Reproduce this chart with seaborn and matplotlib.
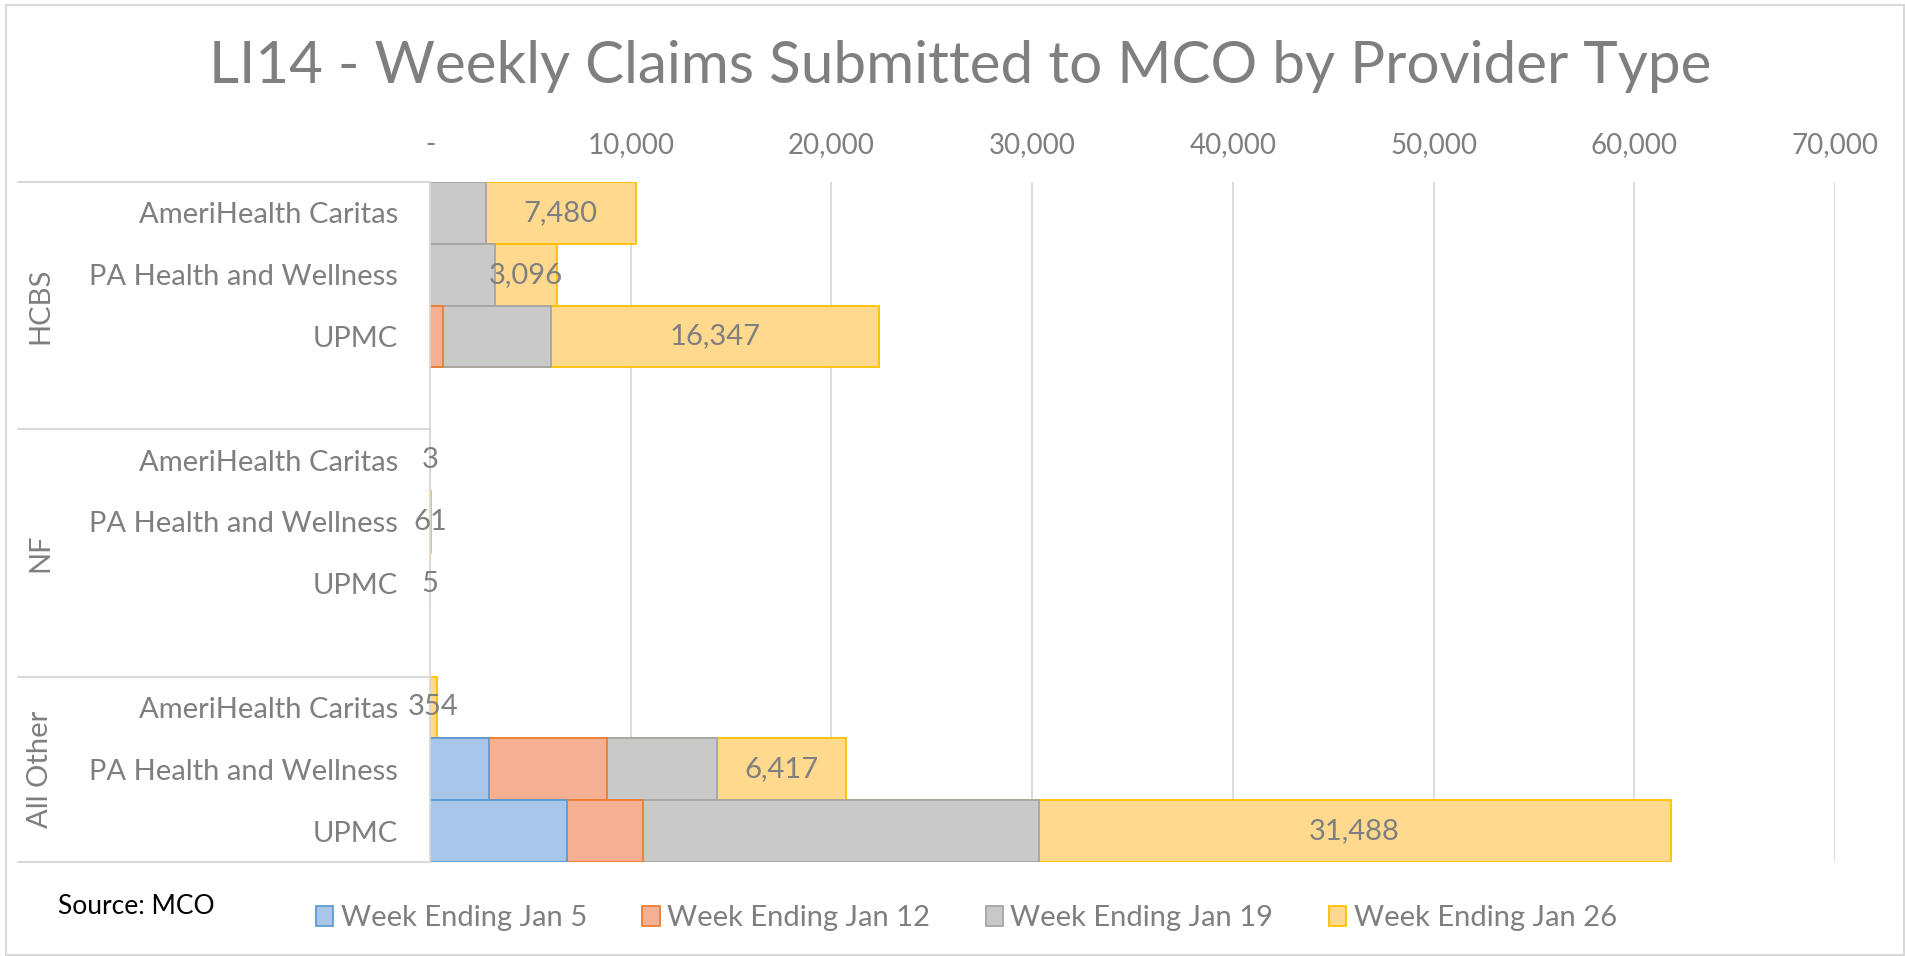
import pandas as pd
import matplotlib
matplotlib.use('Agg')
import matplotlib.pyplot as plt
import matplotlib.patches as mpatches
from matplotlib.ticker import FuncFormatter
import seaborn as sns

# categories
groups = ['HCBS', 'NF', 'All Other']
mcos = ['AmeriHealth Caritas', 'PA Health and Wellness', 'UPMC']
weeks = ['Week Ending Jan 5', 'Week Ending Jan 12', 'Week Ending Jan 19', 'Week Ending Jan 26']

# claims per week, ordered HCBS x3, NF x3, All Other x3 (mco order as above)
jan5 = [0, 0, 0, 0, 0, 0, 0, 2950, 6830]
jan12 = [0, 0, 650, 0, 0, 0, 0, 5850, 3760]
jan19 = [2770, 3250, 5380, 0, 0, 0, 0, 5500, 19730]
jan26 = [7480, 3096, 16347, 3, 61, 5, 354, 6417, 31488]

title = 'LI14 - Weekly Claims Submitted to MCO by Provider Type'
fills = ['#a8c6e8', '#f5b093', '#c9c9c9', '#fed98e']
edges = ['#5b9bd5', '#ed7d31', '#a5a5a5', '#ffc000']
text_gray = '#7f7f7f'

sns.set_style('white')
plt.rcParams['font.family'] = ['Lato', 'DejaVu Sans']

# long table
rows = []
for gi, g in enumerate(groups):
    for mi, m in enumerate(mcos):
        k = gi * 3 + mi
        rows.append({'group': g, 'mco': m, 'key': g + '|' + m,
                     weeks[0]: jan5[k], weeks[1]: jan12[k],
                     weeks[2]: jan19[k], weeks[3]: jan26[k]})
df = pd.DataFrame(rows)
cum = df[weeks].cumsum(axis=1)
cum['key'] = df['key']

# category order with an empty slot after each group except the last
order = []
for gi, g in enumerate(groups):
    order += [g + '|' + m for m in mcos]
    if gi < len(groups) - 1:
        order.append('gap%d' % gi)

fig = plt.figure(figsize=(19.06, 9.56), dpi=100)
ax = fig.add_axes([430 / 1906, 1 - 862 / 956, 1405 / 1906, 680 / 956])

# stacked bars: draw running totals from the largest down
for i in reversed(range(len(weeks))):
    sub = cum[cum[weeks[i]] > 0]
    sns.barplot(x=sub[weeks[i]], y=sub['key'], order=order, orient='h',
                color=fills[i], edgecolor=edges[i], linewidth=1.3,
                width=1, saturation=1, errorbar=None, ax=ax)

# labels on the last week
for idx, r in df.iterrows():
    yi = order.index(r['key'])
    start = cum.loc[idx, weeks[2]]
    ax.text(start + r[weeks[3]] / 2, yi, f'{r[weeks[3]]:,}', ha='center', va='center',
            fontsize=21, color=text_gray)

ax.set_xlim(0, 70000)
ax.set_xticks(range(0, 70001, 10000))
ax.xaxis.set_major_formatter(FuncFormatter(lambda v, p: '-' if v == 0 else f'{v:,.0f}'))
ax.xaxis.tick_top()
ax.tick_params(axis='x', length=0, pad=17, labelsize=20, labelcolor=text_gray)
ax.xaxis.grid(True, color='#d9d9d9', lw=1.3)
ax.set_axisbelow(True)

ax.set_yticks(range(len(order)))
ax.set_yticklabels([k.split('|')[1] if '|' in k else '' for k in order])
ax.tick_params(axis='y', length=0, pad=23, labelsize=21, labelcolor=text_gray)
ax.set_xlabel('')
ax.set_ylabel('')
for s in ['top', 'right', 'bottom']:
    ax.spines[s].set_visible(False)
ax.spines['left'].set_color('#d9d9d9')
ax.spines['left'].set_linewidth(1.3)

# group separators and group labels
ytr = ax.get_yaxis_transform()
bounds = [-0.5, 3.5, 7.5, len(order) - 0.5]
for b in bounds:
    ax.plot([-412 / 1405, 0], [b, b], transform=ytr, color='#d9d9d9', lw=1.5,
            clip_on=False, scalex=False, scaley=False)
for gi, g in enumerate(groups):
    ax.text(-390 / 1405, (bounds[gi] + bounds[gi + 1]) / 2, g, rotation=90, transform=ytr,
            ha='center', va='center', fontsize=21, color=text_gray)
ax.set_ylim(len(order) - 0.5, -0.5)

fig.text(0.504, 1 - 83 / 956, title, ha='center', va='baseline', fontsize=42, color=text_gray)
fig.text(58 / 1906, 1 - 907 / 956, 'Source: MCO', ha='left', va='center', fontsize=19, color='black')

handles = [mpatches.Patch(facecolor=fills[i], edgecolor=edges[i], lw=1.3, label=weeks[i])
           for i in range(len(weeks))]
fig.legend(handles=handles, loc='center', bbox_to_anchor=(0.507, 1 - 918 / 956), ncol=4,
           frameon=False, fontsize=21, labelcolor=text_gray, handlelength=0.6,
           handleheight=0.7, handletextpad=0.25, columnspacing=1.9)

fig.patches.append(mpatches.Rectangle((6 / 1906, 1 / 956), 1898 / 1906, 950 / 956,
                                      transform=fig.transFigure, fill=False,
                                      edgecolor='#d9d9d9', lw=1.5))

plt.savefig('out.png', dpi=100)
